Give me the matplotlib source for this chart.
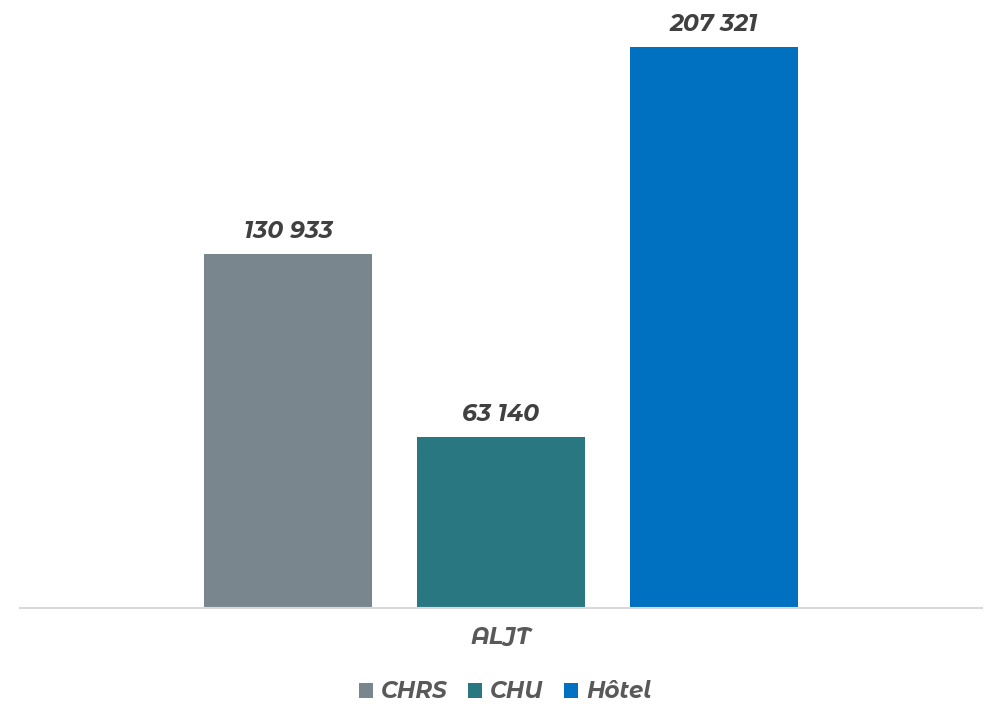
import matplotlib.pyplot as plt
import numpy as np

# Data
category = 'ALJT'
series = ['CHRS', 'CHU', 'Hôtel']
values = [130933, 63140, 207321]
colors = ['#7A868E', '#297781', '#0070C0']

# Montserrat here is only a variable font (renders thin), so use the static Alternates cut
plt.rcParams['font.family'] = ['Montserrat Alternates', 'Open Sans', 'DejaVu Sans']

fig = plt.figure(figsize=(9.85, 7.04), dpi=100)
ax = fig.add_axes([20 / 985, 96 / 704, 962 / 985, 608 / 704])

x = np.array([-1, 0, 1])
bars = ax.bar(x, values, width=0.79, color=colors, label=series, zorder=2)

# value labels
for b, v in zip(bars, values):
    txt = f'{v:,}'.replace(',', ' ')
    ax.annotate(txt, (b.get_x() + b.get_width() / 2, v), xytext=(0, 8),
                textcoords='offset points', ha='center', va='bottom',
                fontsize=17, fontweight='bold', fontstyle='italic', color='#404040')

ax.set_xlim(-2.258, 2.258)
ax.set_ylim(0, 224700)
ax.set_yticks([])
ax.set_xticks([0])
ax.set_xticklabels([category], fontsize=17, fontweight='bold', fontstyle='italic', color='#595959')
ax.tick_params(axis='x', length=0, pad=13)
for s in ['top', 'right', 'left']:
    ax.spines[s].set_visible(False)
ax.spines['bottom'].set_color('#D9D9D9')
ax.spines['bottom'].set_linewidth(1.5)

fig.legend(handles=bars, labels=series, loc='center', bbox_to_anchor=(0.513, 1 - 692 / 704),
           ncol=3, frameon=False, handlelength=0.6, handleheight=0.6, handletextpad=0.35,
           columnspacing=0.9,
           prop={'size': 16.5, 'weight': 'bold', 'style': 'italic'}, labelcolor='#595959')

plt.savefig('out.png', dpi=100)
